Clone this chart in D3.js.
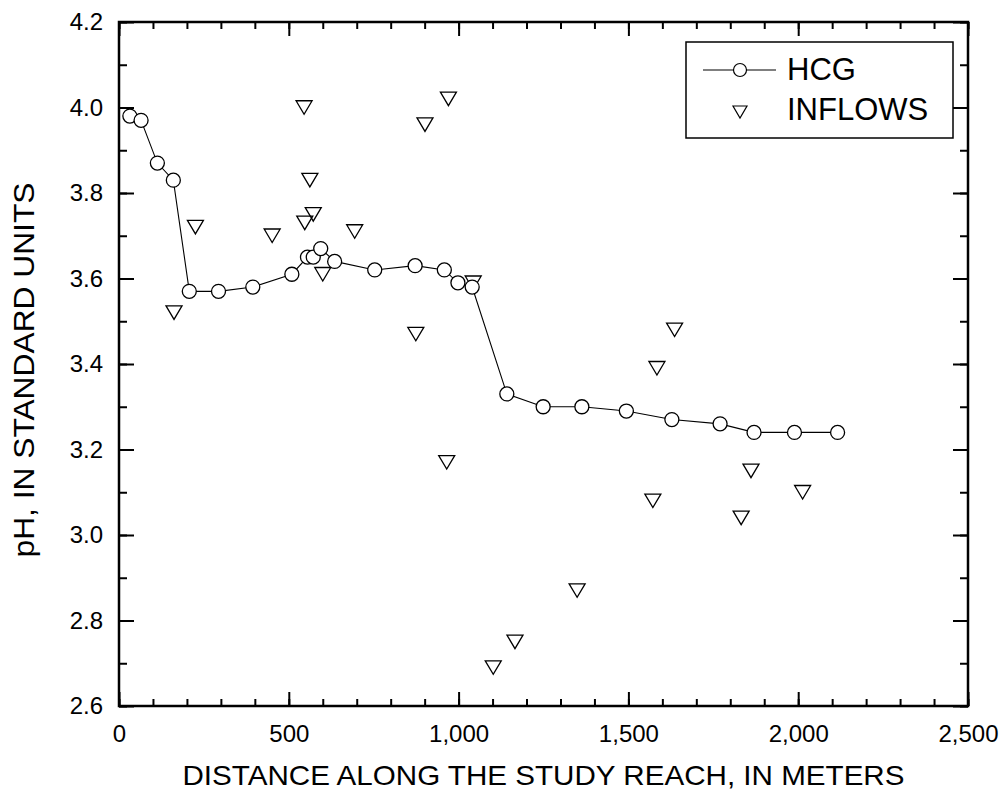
<!DOCTYPE html>
<html>
<head>
<meta charset="utf-8">
<script src="https://cdn.jsdelivr.net/npm/d3@7/dist/d3.min.js"></script>
<style>
  html, body { margin: 0; padding: 0; background: #fff; }
  svg { display: block; font-family: "Liberation Sans", Arial, Helvetica, sans-serif; }
</style>
</head>
<body>
<svg id="chart" width="1002" height="795"></svg>
<script>
// ---- Data ----
const hcgDistance = [32, 65, 113, 160, 207, 293, 394, 509, 555, 572, 594, 635, 753, 872, 958, 998, 1040,
                     1142, 1249, 1363, 1494, 1628, 1770, 1870, 1989, 2116];
const hcgPH = [3.98, 3.97, 3.87, 3.83, 3.57, 3.57, 3.58, 3.61, 3.65, 3.65, 3.67, 3.64, 3.62, 3.63, 3.62, 3.59, 3.58,
               3.33, 3.30, 3.30, 3.29, 3.27, 3.26, 3.24, 3.24, 3.24];

const inflowDistance = [162, 225, 451, 545, 547, 562, 572, 600, 694, 874, 901, 965, 970, 1043, 1102, 1166,
                        1349, 1572, 1584, 1636, 1832, 1861, 2013];
const inflowPH = [3.52, 3.72, 3.70, 4.00, 3.73, 3.83, 3.75, 3.61, 3.71, 3.47, 3.96, 3.17, 4.02, 3.59, 2.69, 2.75,
                  2.87, 3.08, 3.39, 3.48, 3.04, 3.15, 3.10];

const xMajorTicks = [0, 500, 1000, 1500, 2000, 2500];
const xTickLabels = ["0", "500", "1,000", "1,500", "2,000", "2,500"];
const yMajorTicks = [2.6, 2.8, 3.0, 3.2, 3.4, 3.6, 3.8, 4.0, 4.2];
const yTickLabels = ["2.6", "2.8", "3.0", "3.2", "3.4", "3.6", "3.8", "4.0", "4.2"];
const xMinorTicks = d3.range(0, 2501, 100);
const yMinorTicks = d3.range(26, 43, 1).map(d => d / 10);

const seriesNames = ["HCG", "INFLOWS"];
const xTitle = "DISTANCE ALONG THE STUDY REACH, IN METERS";
const yTitle = "pH, IN STANDARD UNITS";

// ---- Layout ----
const L = 119, R = 968, T = 22, B = 706;
const svg = d3.select("#chart");
const x = d3.scaleLinear().domain([0, 2500]).range([L, R]);
const y = d3.scaleLinear().domain([2.6, 4.2]).range([B, T]);

const axisStyle = g => {
  g.select(".domain").remove();
  g.selectAll(".tick line").attr("stroke", "#000").attr("stroke-width", 2);
  g.selectAll("text").attr("fill", "#000").attr("font-size", 24)
    .attr("font-family", "\"Liberation Sans\", Arial, sans-serif");
};

// minor ticks
svg.append("g").attr("transform", `translate(0,${B})`)
  .call(d3.axisBottom(x).tickValues(xMinorTicks).tickSize(-7).tickFormat(""))
  .call(axisStyle);
svg.append("g").attr("transform", `translate(0,${T})`)
  .call(d3.axisTop(x).tickValues(xMinorTicks).tickSize(-7).tickFormat(""))
  .call(axisStyle);
svg.append("g").attr("transform", `translate(${L},0)`)
  .call(d3.axisLeft(y).tickValues(yMinorTicks).tickSize(-8).tickFormat(""))
  .call(axisStyle);
svg.append("g").attr("transform", `translate(${R},0)`)
  .call(d3.axisRight(y).tickValues(yMinorTicks).tickSize(-8).tickFormat(""))
  .call(axisStyle);

// major ticks with labels
svg.append("g").attr("transform", `translate(0,${B})`)
  .call(d3.axisBottom(x).tickValues(xMajorTicks).tickSize(-14).tickPadding(19)
        .tickFormat((d, i) => xTickLabels[i]))
  .call(axisStyle);
svg.append("g").attr("transform", `translate(0,${T})`)
  .call(d3.axisTop(x).tickValues(xMajorTicks).tickSize(-14).tickFormat(""))
  .call(axisStyle);
svg.append("g").attr("transform", `translate(${L},0)`)
  .call(d3.axisLeft(y).tickValues(yMajorTicks).tickSize(-15).tickPadding(16)
        .tickFormat((d, i) => yTickLabels[i]))
  .call(axisStyle);
svg.append("g").attr("transform", `translate(${R},0)`)
  .call(d3.axisRight(y).tickValues(yMajorTicks).tickSize(-15).tickFormat(""))
  .call(axisStyle);

// frame
svg.append("rect").attr("x", L).attr("y", T).attr("width", R - L).attr("height", B - T)
  .attr("fill", "none").attr("stroke", "#000").attr("stroke-width", 2.5);

// ---- Series ----
const hcg = hcgDistance.map((d, i) => ({ x: d, y: hcgPH[i] }));
const inflows = inflowDistance.map((d, i) => ({ x: d, y: inflowPH[i] }));

svg.append("path").datum(hcg)
  .attr("fill", "none").attr("stroke", "#000").attr("stroke-width", 1.1)
  .attr("d", d3.line().x(d => x(d.x)).y(d => y(d.y)));

const triPath = (w, h) => `M${-w/2},${-h/2}L${w/2},${-h/2}L0,${h/2}Z`;

svg.append("g").selectAll("path").data(inflows).join("path")
  .attr("transform", d => `translate(${x(d.x)},${y(d.y)})`)
  .attr("d", triPath(16, 13.5))
  .attr("fill", "none").attr("stroke", "#000").attr("stroke-width", 1.3);

svg.append("g").selectAll("circle").data(hcg).join("circle")
  .attr("cx", d => x(d.x)).attr("cy", d => y(d.y)).attr("r", 7)
  .attr("fill", "#fff").attr("stroke", "#000").attr("stroke-width", 1.3);

// ---- Legend ----
const lg = svg.append("g");
lg.append("rect").attr("x", 686).attr("y", 42).attr("width", 267).attr("height", 96)
  .attr("fill", "#fff").attr("stroke", "#000").attr("stroke-width", 1.5);
lg.append("line").attr("x1", 703).attr("x2", 776).attr("y1", 70).attr("y2", 70)
  .attr("stroke", "#000").attr("stroke-width", 1.1);
lg.append("circle").attr("cx", 740).attr("cy", 70).attr("r", 6.5)
  .attr("fill", "#fff").attr("stroke", "#000").attr("stroke-width", 1.2);
lg.append("path").attr("transform", "translate(740,112)").attr("d", triPath(14, 12))
  .attr("fill", "none").attr("stroke", "#000").attr("stroke-width", 1.2);
lg.append("text").attr("x", 787).attr("y", 80).attr("font-size", 31).text(seriesNames[0]);
lg.append("text").attr("x", 787).attr("y", 120).attr("font-size", 31).text(seriesNames[1]);

// ---- Axis titles ----
svg.append("text").attr("x", (L + R) / 2).attr("y", 785).attr("text-anchor", "middle")
  .attr("font-size", 28).attr("textLength", 722).attr("lengthAdjust", "spacingAndGlyphs")
  .text(xTitle);
svg.append("text").attr("transform", `translate(34,${370}) rotate(-90)`).attr("text-anchor", "middle")
  .attr("font-size", 29).attr("textLength", 375).attr("lengthAdjust", "spacingAndGlyphs")
  .text(yTitle);
</script>
</body>
</html>
